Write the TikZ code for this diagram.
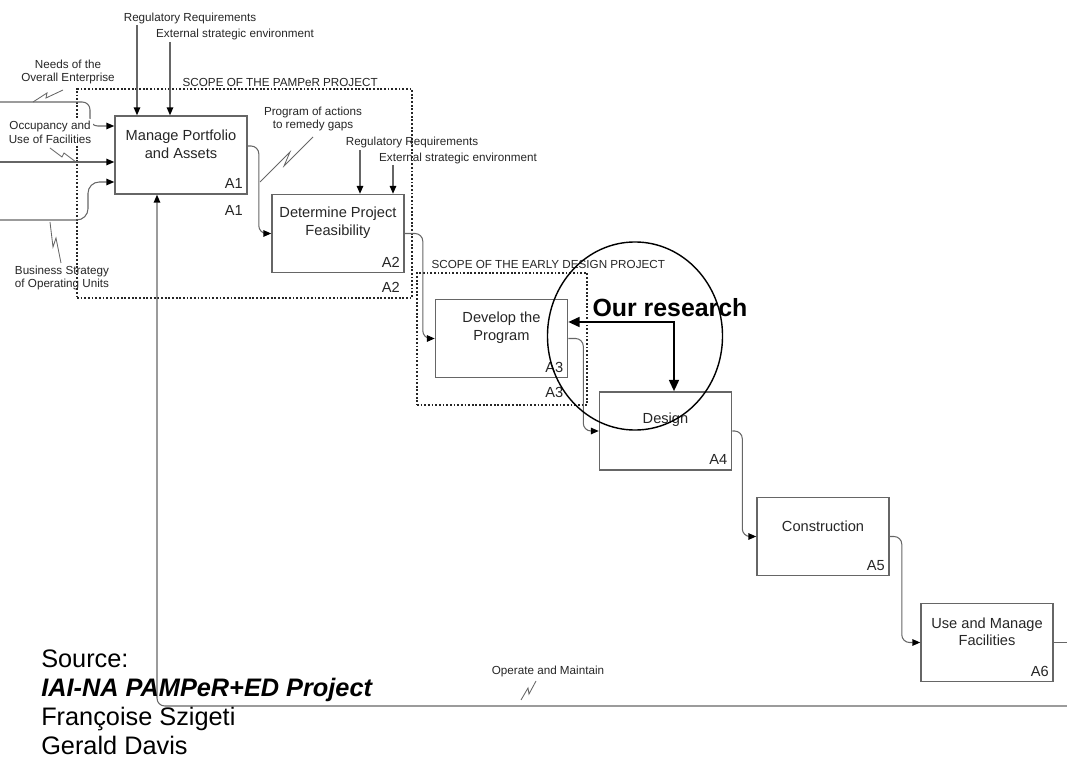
\documentclass[tikz,border=0pt]{standalone}
\usepackage{fontspec}
\setmainfont{Liberation Sans}
\usetikzlibrary{positioning, arrows.meta, calc, shapes.geometric}

\begin{document}
\begin{tikzpicture}[
    x=0.025cm, y=-0.025cm,
    activity/.style={
        draw=black!60,
        line width=1.1pt,
        minimum width=3.3cm,
        minimum height=1.95cm,
        inner sep=0pt
    },
    boxtitle/.style={
        font=\fontsize{10.4}{12.5}\selectfont,
        text=black!85,
        align=center,
        inner sep=0pt
    },
    boxnum/.style={
        font=\fontsize{10.4}{12}\selectfont,
        text=black!85,
        inner sep=0pt
    },
    lbl/.style={
        font=\fontsize{8.3}{9.8}\selectfont,
        text=black!85,
        align=center,
        inner sep=1pt
    },
    scopebox/.style={
        draw=black!85,
        line width=1.2pt,
        dash pattern=on 1.3pt off 1.3pt,
        inner sep=0pt
    },
    flow/.style={
        -{Triangle[length=5.5pt,width=4.6pt,color=black]},
        draw=black!60,
        line width=0.75pt,
        rounded corners=5.5pt
    },
    squiggle/.style={
        draw=black!60,
        line width=0.6pt
    },
    researcharrow/.style={
        {Triangle[length=8pt,width=7pt]}-{Triangle[length=8pt,width=7pt]},
        draw=black,
        line width=1.4pt
    },
    focusring/.style={
        draw=black,
        line width=1pt,
        ellipse,
        minimum width=4.375cm,
        minimum height=4.7cm,
        inner sep=0pt
    },
    sourcetext/.style={
        font=\fontsize{18}{20.6}\selectfont,
        align=left,
        anchor=west,
        inner sep=0pt
    }
]
\useasboundingbox (0,0) rectangle (1067,767);

% --- Scope boxes ----------------------------------------------------------
\node[scopebox, minimum width=8.375cm, minimum height=5.225cm]
    (pamper) at (244.5,193.5) {};
\node[lbl, anchor=south west] (pamperlbl) at (181,88)
    {SCOPE OF THE PAMPeR PROJECT};
\node[scopebox, minimum width=4.25cm, minimum height=3.3cm]
    (early) at (502,339) {};
\node[lbl, anchor=south west] (earlylbl) at (430,270)
    {SCOPE OF THE EARLY DESIGN PROJECT};

% --- Activities A1 .. A6 --------------------------------------------------
\node[activity] (a1) at (181,155)   {};
\node[activity] (a2) at (338,233.5) {};
\node[activity] (a3) at (501.5,338.5) {};
\node[activity] (a4) at (665.5,431) {};
\node[activity] (a5) at (823,536.5) {};
\node[activity] (a6) at (987,642.5) {};

\node[boxtitle] (a1t) at ($(a1.north)+(0,29)$) {Manage Portfolio\\and Assets};
\node[boxtitle] (a2t) at ($(a2.north)+(0,29)$) {Determine Project\\Feasibility};
\node[boxtitle] (a3t) at ($(a3.north)+(0,29)$) {Develop the\\Program};
\node[boxtitle] (a4t) at ($(a4.north)+(0,29)$) {Design};
\node[boxtitle] (a5t) at ($(a5.north)+(0,30)$) {Construction};
\node[boxtitle] (a6t) at ($(a6.north)+(0,29)$) {Use and Manage\\Facilities};

\node[boxnum] (a1n) at ($(a1.south east)+(-14,-11)$) {A1};
\node[boxnum] (a2n) at ($(a2.south east)+(-14,-11)$) {A2};
\node[boxnum] (a3n) at ($(a3.south east)+(-14,-11)$) {A3};
\node[boxnum] (a4n) at ($(a4.south east)+(-14,-11)$) {A4};
\node[boxnum] (a5n) at ($(a5.south east)+(-14,-11)$) {A5};
\node[boxnum] (a6n) at ($(a6.south east)+(-14,-11)$) {A6};

\node[boxnum] (a1o) at ($(a1.south east)+(-14,16)$) {A1};
\node[boxnum] (a2o) at ($(a2.south east)+(-14,14)$) {A2};
\node[boxnum] (a3o) at ($(a3.south east)+(-14,14)$) {A3};

% --- Flow between activities ---------------------------------------------
\draw[flow] ($(a1.east)+(0,-9)$) -- ++(11,0) |- (a2.west);
\draw[flow] (a2.east) -- ++(18,0) |- (a3.west);
\draw[flow] (a3.east) -- ++(15,0) |- (a4.west);
\draw[flow] (a4.east) -- ++(10,0) |- (a5.west);
\draw[flow] (a5.east) -- ++(12,0) |- (a6.west);
\coordinate (out6) at (1067,642.5);
\draw[flow, -] (a6.east) -- (out6);

% --- Inputs to A1 ---------------------------------------------------------
\coordinate (in1) at (0,102);
\coordinate (in2) at (0,162);
\coordinate (in3) at (0,220);
\draw[flow] (in1) -- (90,102) |- ($(a1.west)+(0,-29)$);
\draw[flow] (in2) -- ($(a1.west)+(0,7)$);
\draw[flow, rounded corners=8pt] (in3) -- (88,220) |- ($(a1.west)+(0,27)$);

\node[lbl] (needs) at (68,72) {Needs of the\\Overall Enterprise};
\node[lbl, fill=white] (occup) at (50,132) {Occupancy and\\Use of Facilities};
\node[lbl] (bizstrat) at (62,278) {Business Strategy\\of Operating Units};

\draw[squiggle] (33,102) -- (47,93) -- (46,98) -- (63,90);
\draw[squiggle] (50,148) -- (62,157) -- (64,153) -- (76,162);
\draw[squiggle] (61,263) -- (56,238) -- (53,247) -- (50,222);

% --- Controls ---------------------------------------------------------------
\node[lbl] (reg1) at (190,18) {Regulatory Requirements};
\node[lbl] (ext1) at (235,34) {External strategic environment};
\coordinate (c1a) at (137,25);
\coordinate (c1b) at (170,42);
\draw[flow] (c1a) -- (c1a |- a1.north);
\draw[flow] (c1b) -- (c1b |- a1.north);

\node[lbl] (reg2) at (412,142) {Regulatory Requirements};
\node[lbl] (ext2) at (458,158) {External strategic environment};
\coordinate (c2a) at (360,150);
\coordinate (c2b) at (393,165);
\draw[flow] (c2a) -- (c2a |- a2.north);
\draw[flow] (c2b) -- (c2b |- a2.north);

% --- Output label between A1 and A2 ---------------------------------------
\node[lbl] (remedy) at (313,119) {Program of actions\\to remedy gaps};
\draw[squiggle] (260,182) -- (290,152) -- (284,166) -- (313,137);

% --- Feedback: operate and maintain -> A1 ---------------------------------
\coordinate (fb) at (1067,706);
\draw[flow] (fb) -| ($(a1.south)+(-24,0)$);
\node[lbl] (operate) at (548,671) {Operate and Maintain};
\draw[squiggle] (521,700) -- (528,688) -- (529,694) -- (536,681);

% --- Our research ----------------------------------------------------------
\node[focusring] (focus) at (635,336) {};
\node[font=\fontsize{17.7}{20}\selectfont\bfseries, inner sep=0pt]
    (research) at (670,308) {Our research};
\draw[researcharrow] ($(a3.east)+(0,-16.5)$) -| ($(a4.north)+(8.5,0)$);

% --- Source ---------------------------------------------------------------
\node[sourcetext] (source) at (41,702)
    {Source:\\
     {\bfseries\itshape IAI-NA PAMPeR+ED Project}\\
     Françoise Szigeti\\
     Gerald Davis};

\end{tikzpicture}
\end{document}
